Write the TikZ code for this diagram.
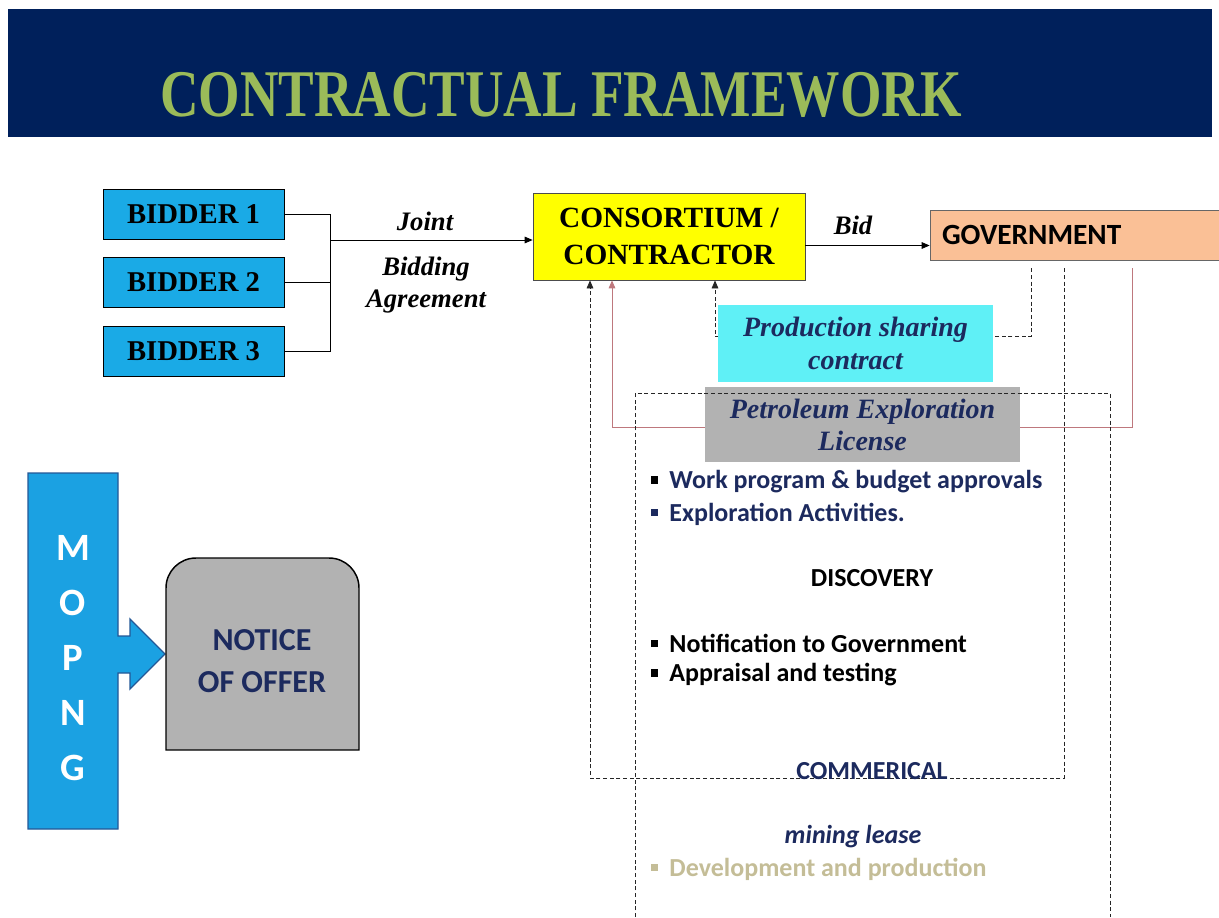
\documentclass[tikz,border=0pt]{standalone}
\usepackage{fontspec}
\setmainfont{Carlito}
\newfontfamily\serifface{Liberation Serif}
\usetikzlibrary{arrows.meta}

\definecolor{bandnavy}{RGB}{0,32,91}
\definecolor{titlegreen}{RGB}{155,187,89}
\definecolor{bidblue}{RGB}{26,170,230}
\definecolor{consyellow}{RGB}{255,255,0}
\definecolor{govorange}{RGB}{250,192,150}
\definecolor{psccyan}{RGB}{95,240,246}
\definecolor{pelgray}{RGB}{178,178,178}
\definecolor{textnavy}{RGB}{28,42,94}
\definecolor{linkred}{RGB}{190,120,125}
\definecolor{devbeige}{RGB}{196,189,151}
\definecolor{mopblue}{RGB}{27,161,226}
\definecolor{mopedge}{RGB}{36,88,150}

\newcommand{\sqb}{\raisebox{0.2em}{\rule{0.28em}{0.28em}}\hspace{0.45em}}

\tikzset{every picture/.style={line width=0.75pt}}
\tikzset{
  arr/.style={-{Triangle[length=6pt,width=5pt]}},
  dashline/.style={draw=black!85, line width=0.6pt, dash pattern=on 3pt off 2pt},
  redline/.style={draw=linkred, line width=0.7pt},
  titletext/.style={text=titlegreen, inner sep=0pt, font={\serifface\bfseries\fontsize{50}{54}\selectfont}},
  bidderbox/.style={draw=black, line width=0.6pt, fill=bidblue, minimum width=135.75pt, minimum height=37.5pt, inner sep=0pt, font={\serifface\bfseries\fontsize{21.5}{24}\selectfont}},
  consbox/.style={draw=black!70, line width=0.6pt, fill=consyellow, minimum width=204pt, minimum height=65.25pt, inner sep=0pt, align=center, font={\serifface\bfseries\fontsize{22}{28}\selectfont}},
  govbox/.style={draw=black!60, line width=0.6pt, fill=govorange, text width=201pt, inner xsep=9pt, minimum height=37.5pt, align=left, font={\bfseries\fontsize{22}{26}\selectfont}},
  italiclabel/.style={inner sep=0pt, align=center, font={\serifface\bfseries\itshape\fontsize{20}{23.5}\selectfont}},
  pscbox/.style={fill=psccyan, minimum width=206.25pt, minimum height=57.75pt, inner sep=0pt, align=center, text=textnavy, font={\serifface\bfseries\itshape\fontsize{21}{24.5}\selectfont}},
  pelbox/.style={fill=pelgray, minimum width=236.25pt, minimum height=56.25pt, inner sep=0pt, align=center, text=textnavy, font={\serifface\bfseries\itshape\fontsize{21}{24}\selectfont}},
  bullettext/.style={anchor=west, inner sep=0pt, font={\bfseries\fontsize{19.5}{23}\selectfont}},
  headtext/.style={inner sep=0pt, font={\bfseries\fontsize{19.5}{23}\selectfont}},
  mopngshape/.style={draw=mopedge, line width=1pt, fill=mopblue},
  mopngtext/.style={text=white, inner sep=0pt, align=center, font={\bfseries\fontsize{29}{41.25}\selectfont}},
  noticeshape/.style={draw=black, line width=1.1pt, fill=pelgray},
  noticetext/.style={text=textnavy, inner sep=0pt, align=center, font={\bfseries\fontsize{24}{31.5}\selectfont}}
}

\begin{document}
\begin{tikzpicture}[x=0.75pt,y=0.75pt,yscale=-1,xscale=1]
		\useasboundingbox (0,0) rectangle (1219,917);
		\clip (0,0) rectangle (1219,917);
		%Shape: Rectangle [title band]
		\fill [bandnavy] (8,9) rectangle (1212,137);
		% Text Node
		\draw (561,95) node (title) [titletext] {\scalebox{0.8}[1]{CONTRACTUAL FRAMEWORK}};
		% Bidders
		\draw (193.5,214.5) node (bidA) [bidderbox] {BIDDER 1};
		\draw (193.5,282.5) node (bidB) [bidderbox] {BIDDER 2};
		\draw (193.5,351) node (bidC) [bidderbox] {BIDDER 3};
		% Consortium and government
		\draw (669,236.5) node (cons) [consbox] {CONSORTIUM /\\CONTRACTOR};
		\draw (1076,235) node (gov) [govbox] {GOVERNMENT};
		% Joint bidding agreement
		\coordinate (jn) at (330,240);
		\draw [line width=0.6pt] (bidA.east) -| (jn |- bidC.east) -- (bidC.east);
		\draw [line width=0.6pt] (bidB.east) -- (jn |- bidB.east);
		\draw [arr, line width=0.6pt] (jn) -- (cons.west |- jn);
		% Text Node
		\draw (425,221) node (lblJoint) [italiclabel] {Joint};
		% Text Node
		\draw (426,285) node (lblAgree) [italiclabel] {Bidding\\Agreement};
		% Bid
		\coordinate (bidY) at (0,245.5);
		\draw [arr, line width=0.6pt] (cons.east |- bidY) -- (gov.west |- bidY);
		% Text Node
		\draw (853,225) node (lblBid) [italiclabel] {Bid};
		% Links back from government
		\coordinate (pscR) at (1031,336.5);
		\coordinate (pscL) at (715,336.5);
		\draw [dashline, arr, shorten <=6pt] (gov.south -| pscR) -- (pscR) -- (pscL) -- (pscL |- cons.south);
		\coordinate (loopR) at (1064,778);
		\coordinate (loopL) at (590,778);
		\draw [dashline, arr, shorten <=6pt] (gov.south -| loopR) -- (loopR) -- (loopL) -- (loopL |- cons.south);
		\coordinate (pelR) at (1132,427);
		\coordinate (pelL) at (612,427);
		\draw [redline, arr, shorten <=6pt] (gov.south -| pelR) -- (pelR) -- (pelL) -- (pelL |- cons.south);
		% Contract boxes
		\draw (855.5,343.5) node (psc) [pscbox] {Production sharing\\contract};
		\draw (862.5,424.5) node (pel) [pelbox] {Petroleum Exploration\\License};
		%Shape: open dashed frame
		\draw [dashline] (635,917) -- (635,393) -- (1110,393) -- (1110,917);
		% Text Node
		\draw (650,482) node (wpb) [bullettext, text=textnavy] {{\color{black}\sqb}Work program \& budget approvals};
		\draw (650,514) node (expl) [bullettext, text=textnavy] {\sqb Exploration Activities.};
		\draw (872,578) node (disc) [headtext] {DISCOVERY};
		\draw (650,643) node (notif) [bullettext] {\sqb Notification to Government};
		\draw (650,675) node (appr) [bullettext] {\sqb Appraisal and testing};
		\draw (872,771) node (comm) [headtext, text=textnavy] {COMMERICAL};
		\draw (853,837) node (mine) [headtext, text=textnavy, font={\bfseries\itshape\fontsize{19.5}{23}\selectfont}] {mining lease};
		\draw (650,869) node (devp) [bullettext, text=devbeige] {\sqb Development and production};
		%Shape: Block arrow [MOPNG]
		\draw [mopngshape] (28,473) -- (118,473) -- (118,636) -- (130,636) -- (130,619) -- (165,654) -- (130,689) -- (130,673) -- (118,673) -- (118,829) -- (28,829) -- cycle;
		\draw (73,658) node (mopng) [mopngtext] {M\\O\\P\\N\\G};
		%Shape: Rounded-top rectangle [notice]
		\draw [noticeshape] (166,750) -- (166,588) .. controls (166,571.4) and (179.4,558) .. (196,558) -- (329,558) .. controls (345.6,558) and (359,571.4) .. (359,588) -- (359,750) -- cycle;
		\draw (262,661) node (notice) [noticetext] {NOTICE\\OF OFFER};
	\end{tikzpicture}
\end{document}
